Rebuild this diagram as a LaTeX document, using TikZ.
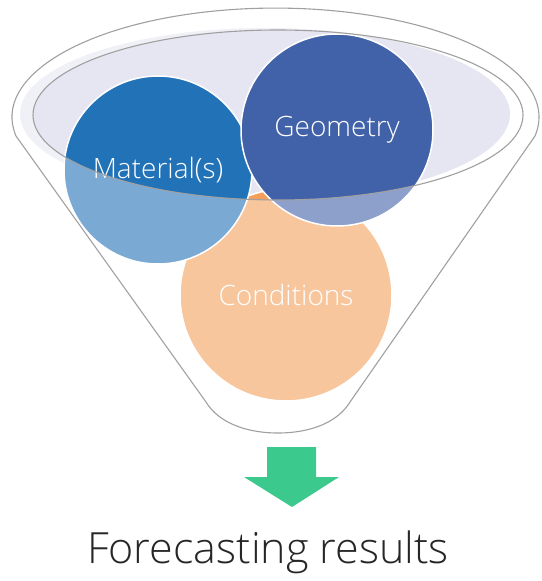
\documentclass[tikz,border=0pt]{standalone}
\usepackage{fontspec}
\setmainfont{Open Sans}[UprightFont={* Light}]
\definecolor{matblue}{HTML}{2272B8}
\definecolor{geoblue}{HTML}{4161A9}
\definecolor{condorange}{HTML}{F4A05C}
\definecolor{rimlavender}{HTML}{E6E6F2}
\definecolor{funnelgray}{HTML}{A0A0A0}
\definecolor{arrowgreen}{HTML}{3CC98E}
\definecolor{resultgray}{HTML}{262626}
\begin{document}
\begin{tikzpicture}[x=1pt, y=1pt,
bubble/.style={circle, draw=white, line width=1.5pt, text=white, font=\fontsize{28}{33}\selectfont},
funnelline/.style={draw=funnelgray, line width=1.1pt},
]
\useasboundingbox (0,0) rectangle (541,-581);

%Inside of the funnel
\fill[rimlavender] (265,-114) ellipse [x radius=245, y radius=86];

%Nodes
\node[bubble, fill=condorange, minimum size=212pt] (conditions) at (286,-295) {Conditions};
\node[bubble, fill=matblue, minimum size=188pt] (material) at (158,-170) {Material(s)};
\node[bubble, fill=geoblue, minimum size=192pt] (geometry) at (337,-130) {Geometry};

%Funnel front
\fill[white, opacity=0.4, even odd rule] (16,-136) arc [start angle=190, end angle=-10, x radius=263.5, y radius=109]
  -- (350,-402) .. controls (338,-422) and (311,-433) .. (278,-433) .. controls (245,-433) and (218,-422) .. (206,-402) -- cycle
  (278,-115) ellipse [x radius=245, y radius=85];
\draw[funnelline] (16,-136) arc [start angle=190, end angle=-10, x radius=263.5, y radius=109]
  -- (350,-402) .. controls (338,-422) and (311,-433) .. (278,-433) .. controls (245,-433) and (218,-422) .. (206,-402) -- cycle;
\draw[funnelline] (278,-115) ellipse [x radius=245, y radius=85];

%Arrow and result
\fill[arrowgreen] (267,-447) -- (316,-447) -- (316,-477) -- (339,-477) -- (292,-507) -- (244,-477) -- (267,-477) -- cycle;
\node[font=\fontsize{43}{50}\selectfont, text=resultgray, anchor=base] (result) at (268,-563) {Forecasting results};

\end{tikzpicture}
\end{document}
